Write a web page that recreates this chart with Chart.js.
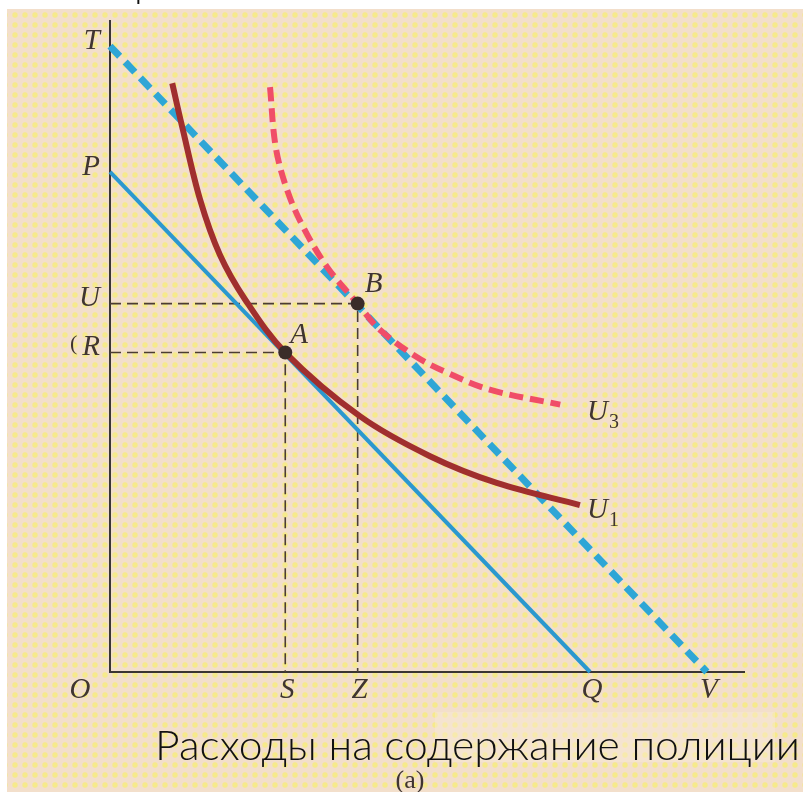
<!DOCTYPE html>
<html>
<head>
<meta charset="utf-8">
<script src="https://cdn.jsdelivr.net/npm/chart.js@4"></script>
<style>
html, body { margin: 0; padding: 0; background: #fff; overflow: hidden; }
canvas { display: block; }
</style>
</head>
<body>
<canvas id="graficoPresupuesto" width="803" height="792"></canvas>
<script>
// marcas de los ejes (unidades del dibujo, 0..100)
const letrasY = ['T', 'P', 'U', 'R'];
const valoresY = [96, 76.7, 56.5, 49];
const letrasX = ['S', 'Z', 'Q', 'V'];
const valoresX = [27.6, 39, 75.6, 94];

// curva de indiferencia U1
const u1X = [9.8, 11.3, 14.2, 17.3, 21.3, 27.6, 39.4, 50.4, 60.9, 74.0];
const u1Y = [90.3, 83.9, 72.4, 64.0, 57.1, 49.0, 39.2, 33.1, 29.0, 25.6];

// curva de indiferencia U3
const u3X = [25.2, 26.1, 27.9, 30.4, 34.2, 39.0, 42.5, 48.3, 53.1, 59.8, 70.9];
const u3Y = [89.7, 80.5, 73.9, 68.3, 62.1, 56.5, 52.5, 48.3, 45.9, 43.3, 41.0];

const titulo = 'Расходы на содержание полиции';

document.addEventListener('DOMContentLoaded', function() {
    const canvas = document.getElementById('graficoPresupuesto');
    const ctx = canvas.getContext('2d');

    const y = {}; letrasY.forEach((l, i) => y[l] = valoresY[i]);
    const x = {}; letrasX.forEach((l, i) => x[l] = valoresX[i]);
    const pares = (xs, ys) => xs.map((v, i) => ({x: v, y: ys[i]}));

    function patronPapel(c2) {
        const t = document.createElement('canvas');
        t.width = 10; t.height = 10;
        const g = t.getContext('2d');
        g.fillStyle = '#f3dfcb';
        g.fillRect(0, 0, 10, 10);
        g.fillStyle = 'rgba(246, 236, 128, 0.85)';
        g.beginPath();
        g.arc(5, 5, 2.7, 0, Math.PI * 2);
        g.fill();
        return c2.createPattern(t, 'repeat');
    }

    const fondo = {
        id: 'fondo',
        beforeDraw(chart) {
            const c = chart.ctx;
            c.save();
            c.fillStyle = '#ffffff';
            c.fillRect(0, 0, chart.width, chart.height);
            c.fillStyle = patronPapel(c);
            c.fillRect(7, 9, chart.width - 7, chart.height - 9);
            c.fillStyle = 'rgba(248, 236, 214, 0.45)';
            c.fillRect(435, 712, 340, 50);
            c.restore();
        }
    };

    function italica(c, texto, px, py, align) {
        c.font = 'italic 29px "Liberation Serif"';
        c.textAlign = align || 'center';
        c.fillText(texto, px, py);
    }

    function conIndice(c, letra, idx, px, py) {
        c.font = 'italic 29px "Liberation Serif"';
        c.textAlign = 'left';
        c.fillText(letra, px, py);
        const w = c.measureText(letra).width;
        c.font = '20px "Liberation Serif"';
        c.fillText(idx, px + w + 1, py + 8);
    }

    const rotulos = {
        id: 'rotulos',
        afterDraw(chart) {
            const c = chart.ctx;
            const sx = chart.scales.x, sy = chart.scales.y;
            c.save();
            c.fillStyle = '#3f3531';
            c.textBaseline = 'middle';
            letrasY.forEach((l, i) => {
                italica(c, l, sx.getPixelForValue(0) - 10, sy.getPixelForValue(valoresY[i]) - 5, 'right');
            });
            letrasX.forEach((l, i) => {
                italica(c, l, sx.getPixelForValue(valoresX[i]) + 2, 690, 'center');
            });
            italica(c, 'O', 80, 690, 'center');
            italica(c, 'A', sx.getPixelForValue(x.S) + 5, sy.getPixelForValue(y.R) - 17, 'left');
            italica(c, 'B', sx.getPixelForValue(x.Z) + 7, sy.getPixelForValue(y.U) - 19, 'left');
            c.textBaseline = 'alphabetic';
            conIndice(c, 'U', '3', 587, 420);
            conIndice(c, 'U', '1', 587, 518);
            c.font = '22px "Liberation Serif"';
            c.textAlign = 'left';
            c.fillText('(', 70, 350);
            c.font = '26px "Liberation Serif"';
            c.textAlign = 'center';
            c.fillText('(a)', 410, 788);

            // titulo del eje
            c.fillStyle = '#111111';
            c.font = '300 41px Lato';
            c.textAlign = 'left';
            const ancho = c.measureText(titulo).width;
            c.save();
            c.translate(155, 760);
            c.scale(645 / ancho, 1);
            c.fillText(titulo, 0, 0);
            c.restore();
            c.fillText('р', 134, -3);
            c.restore();
        }
    };

    const base = {showLine: true, pointRadius: 0, fill: false, clip: false, borderCapStyle: 'butt'};

    new Chart(ctx, {
        type: 'scatter',
        data: {
            datasets: [
                Object.assign({}, base, {
                    label: 'A, B',
                    data: [{x: x.S, y: y.R}, {x: x.Z, y: y.U}],
                    showLine: false,
                    pointRadius: 7,
                    pointBackgroundColor: '#3a2c29',
                    pointBorderWidth: 0,
                    order: 0
                }),
                Object.assign({}, base, {
                    label: 'U1',
                    data: pares(u1X, u1Y),
                    borderColor: '#a02f2e',
                    borderWidth: 6,
                    tension: 0.35,
                    order: 1
                }),
                Object.assign({}, base, {
                    label: 'U3',
                    data: pares(u3X, u3Y),
                    borderColor: '#f04d68',
                    borderWidth: 6,
                    borderDash: [14, 7],
                    tension: 0.35,
                    order: 2
                }),
                Object.assign({}, base, {
                    label: 'TV',
                    data: [{x: 0, y: y.T}, {x: x.V, y: 0}],
                    borderColor: '#2ea6d6',
                    borderWidth: 7,
                    borderDash: [14, 8],
                    order: 3
                }),
                Object.assign({}, base, {
                    label: 'PQ',
                    data: [{x: 0, y: y.P}, {x: x.Q, y: 0}],
                    borderColor: '#2b98cf',
                    borderWidth: 4,
                    order: 4
                }),
                Object.assign({}, base, {
                    label: 'U-Z',
                    data: [{x: 0, y: y.U}, {x: x.Z, y: y.U}, {x: x.Z, y: 0}],
                    borderColor: '#4b3d33',
                    borderWidth: 1.6,
                    borderDash: [11, 6],
                    order: 5
                }),
                Object.assign({}, base, {
                    label: 'R-S',
                    data: [{x: 0, y: y.R}, {x: x.S, y: y.R}, {x: x.S, y: 0}],
                    borderColor: '#4b3d33',
                    borderWidth: 1.6,
                    borderDash: [11, 6],
                    order: 5
                }),
                Object.assign({}, base, {
                    label: 'ejes',
                    data: [{x: 0, y: 100}, {x: 0, y: 0}, {x: 100, y: 0}],
                    borderColor: '#3b3632',
                    borderWidth: 2,
                    borderJoinStyle: 'miter',
                    order: 6
                })
            ]
        },
        options: {
            responsive: false,
            animation: false,
            events: [],
            layout: { padding: { left: 110, right: 58, top: 20, bottom: 120 } },
            scales: {
                x: { type: 'linear', min: 0, max: 100, display: false },
                y: { type: 'linear', min: 0, max: 100, display: false }
            },
            plugins: {
                legend: { display: false },
                tooltip: { enabled: false }
            }
        },
        plugins: [fondo, rotulos]
    });
});
</script>
</body>
</html>
